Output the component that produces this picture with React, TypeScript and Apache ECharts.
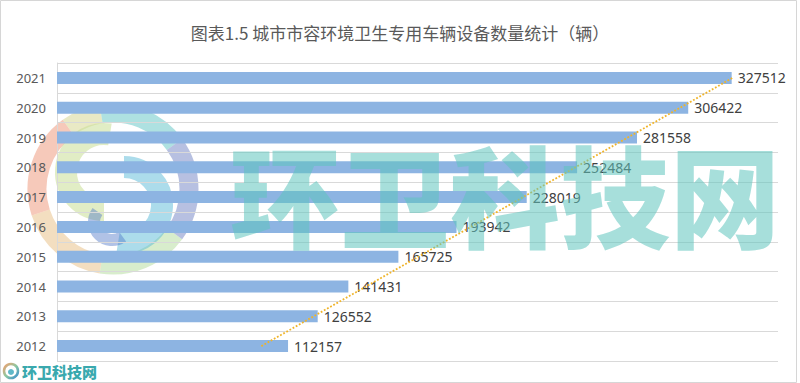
import React, { useEffect, useRef } from "react";
import * as echarts from "echarts";

const years = ["2012", "2013", "2014", "2015", "2016", "2017", "2018", "2019", "2020", "2021"];
const vehicles = [112157, 126552, 141431, 165725, 193942, 228019, 252484, 281558, 306422, 327512];
// trend line end points (value at 2012 and at 2021)
const trendPoints: [number, string][] = [
  [99200, "2012"],
  [327900, "2021"],
];
const titleText = "图表1.5 城市市容环境卫生专用车辆设备数量统计（辆）";
const watermarkText = "环卫科技网";

export default function App() {
  const ref = useRef<HTMLDivElement>(null);
  useEffect(() => {
    if (!ref.current) return;
    const chart = echarts.init(ref.current, undefined, { renderer: "svg" });
    const wmColor = "rgba(95,196,190,0.55)";
    const P = Math.PI;
    const ringArc = (s: number, e: number, color: string) => ({
      type: "arc",
      shape: { cx: 113, cy: 189, r: 76, startAngle: s * P, endAngle: e * P },
      style: { fill: "none", lineWidth: 19, stroke: color, lineCap: "butt" },
    });
    chart.setOption({
      animation: false,
      backgroundColor: "#ffffff",
      title: {
        text: titleText,
        left: "center",
        top: 19,
        textStyle: {
          fontFamily: "Noto Sans CJK SC",
          fontSize: 17,
          fontWeight: "normal",
          color: "#595959",
        },
      },
      grid: { left: 57, right: 22, top: 63, bottom: 22 },
      xAxis: {
        type: "value",
        min: 0,
        max: 350000,
        show: false,
        splitLine: { show: false },
      },
      yAxis: {
        type: "category",
        data: years,
        axisLine: { show: true, lineStyle: { color: "#d9d9d9" } },
        axisTick: { show: false },
        splitLine: { show: true, lineStyle: { color: "#d9d9d9", width: 1 } },
        axisLabel: {
          fontFamily: "Noto Sans",
          fontSize: 13,
          color: "#595959",
          margin: 11,
        },
      },
      series: [
        {
          type: "bar",
          data: vehicles,
          barWidth: 12,
          itemStyle: { color: "#8db4e2" },
          label: {
            show: true,
            position: "right",
            distance: 6,
            fontFamily: "Noto Sans",
            fontSize: 14,
            color: "#404040",
          },
          z: 2,
        },
        {
          type: "line",
          data: trendPoints,
          symbol: "none",
          lineStyle: { color: "#f0b429", width: 1.8, type: "dotted" },
          z: 3,
        },
      ],
      graphic: [
        {
          type: "rect",
          shape: { x: 0.5, y: 0.5, width: 796, height: 382 },
          style: { fill: "none", stroke: "#d6d6d6", lineWidth: 1 },
          silent: true,
          z: 1,
        },
        // big logo watermark
        {
          type: "group",
          z: 100,
          silent: true,
          children: [
            ringArc(0.2, 0.55, "rgba(190,225,170,0.6)"),
            ringArc(0.55, 0.9, "rgba(235,200,150,0.6)"),
            ringArc(0.9, 1.3, "rgba(240,165,140,0.6)"),
            ringArc(1.3, 1.45, "rgba(215,215,150,0.55)"),
            ringArc(1.45, 1.8, "rgba(120,205,205,0.6)"),
            ringArc(1.8, 2.2, "rgba(135,150,205,0.6)"),
            {
              type: "arc",
              shape: { cx: 104, cy: 172, r: 38, startAngle: P * 0.5, endAngle: P * 1.55 },
              style: { fill: "none", lineWidth: 22, stroke: "rgba(200,222,150,0.55)" },
            },
            {
              type: "arc",
              shape: { cx: 124, cy: 205, r: 38, startAngle: -P * 0.5, endAngle: P * 0.55 },
              style: { fill: "none", lineWidth: 22, stroke: "rgba(90,185,215,0.5)" },
            },
            {
              type: "arc",
              shape: { cx: 112, cy: 222, r: 18, startAngle: P * 0.3, endAngle: P * 1.2 },
              style: { fill: "none", lineWidth: 12, stroke: "rgba(80,120,200,0.45)" },
            },
            {
              type: "circle",
              shape: { cx: 112, cy: 197, r: 3.5 },
              style: { fill: "rgba(60,160,190,0.8)" },
            },
          ],
        },
        {
          type: "text",
          z: 100,
          silent: true,
          x: 230,
          y: 137,
          style: {
            text: watermarkText,
            fontFamily: "Noto Sans CJK SC",
            fontWeight: 900,
            fontSize: 110,
            fill: wmColor,
          },
        },
        // small bottom-left logo
        {
          type: "group",
          z: 101,
          silent: true,
          children: [
            {
              type: "circle",
              shape: { cx: 11, cy: 371, r: 7 },
              style: {
                fill: "none",
                lineWidth: 2.5,
                stroke: {
                  type: "linear",
                  x: 0,
                  y: 0,
                  x2: 1,
                  y2: 1,
                  colorStops: [
                    { offset: 0, color: "#f2a070" },
                    { offset: 0.5, color: "#8cc8a0" },
                    { offset: 1, color: "#3a8fd0" },
                  ],
                },
              },
            },
            {
              type: "circle",
              shape: { cx: 11, cy: 372, r: 3 },
              style: { fill: "#5fb8c8" },
            },
            {
              type: "text",
              x: 22,
              y: 371,
              style: {
                text: watermarkText,
                fontFamily: "Noto Sans CJK SC",
                fontWeight: 900,
                fontSize: 15,
                fill: "#3aa9ae",
                verticalAlign: "middle",
              },
            },
          ],
        },
      ],
    });
    return () => chart.dispose();
  }, []);
  return (
    <div
      ref={ref}
      style={{ position: "fixed", left: 0, top: 0, width: 800, height: 383 }}
    />
  );
}
